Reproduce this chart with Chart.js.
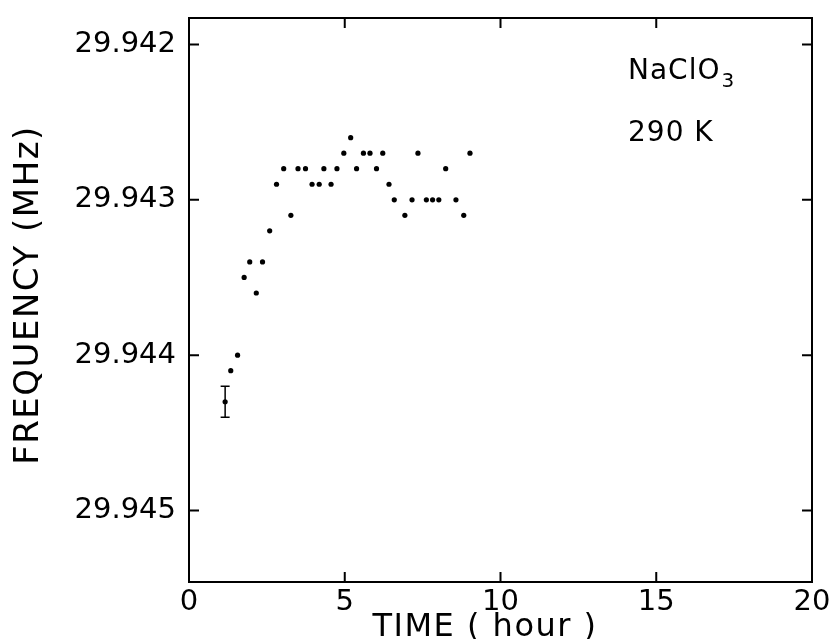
<!DOCTYPE html>
<html>
<head>
<meta charset="utf-8">
<script src="https://cdn.jsdelivr.net/npm/chart.js@4/dist/chart.umd.min.js"></script>
<style>
html,body{margin:0;padding:0;background:#fff;}
#wrap{width:835px;height:639px;}
</style>
</head>
<body>
<div id="wrap"><canvas id="c" width="835" height="639"></canvas></div>
<script>
// ---- data ----
const timeHours = [1.16,1.34,1.56,1.77,1.95,2.16,2.36,2.59,2.81,3.04,3.27,3.50,3.74,3.95,4.18,4.33,4.56,4.75,4.97,5.19,5.38,5.60,5.81,6.02,6.22,6.42,6.59,6.93,7.16,7.35,7.62,7.82,8.02,8.24,8.57,8.82,9.02];
const frequencyMHz = [29.9443,29.9441,29.9440,29.9435,29.9434,29.9436,29.9434,29.9432,29.9429,29.9428,29.9431,29.9428,29.9428,29.9429,29.9429,29.9428,29.9429,29.9428,29.9427,29.9426,29.9428,29.9427,29.9427,29.9428,29.9427,29.9429,29.9430,29.9431,29.9430,29.9427,29.9430,29.9430,29.9430,29.9428,29.9430,29.9431,29.9427];
const errBarX = [1.16];
const errBarY = [29.9443];
const errBarSize = [0.0001];
const xTickValues = [0,5,10,15,20];
const yTickValues = [29.942,29.943,29.944,29.945];
const xTitle = "TIME ( hour )";
const yTitle = "FREQUENCY (MHz)";
const sampleLabel = "NaClO";
const sampleSub = "3";
const tempLabel = "290 K";

const FONT = "'DejaVu Sans', sans-serif";
const INK = "#000";

const framePlugin = {
  id: 'frame',
  afterDatasetsDraw(chart) {
    const {ctx, chartArea: a, scales: {x, y}} = chart;
    ctx.save();
    ctx.strokeStyle = INK;
    ctx.lineWidth = 2;
    ctx.strokeRect(a.left, a.top, a.right - a.left, a.bottom - a.top);
    const tl = 10;
    ctx.beginPath();
    xTickValues.forEach(v => {
      if (v <= x.min || v >= x.max) return;
      const px = x.getPixelForValue(v);
      ctx.moveTo(px, a.bottom); ctx.lineTo(px, a.bottom - tl);
      ctx.moveTo(px, a.top); ctx.lineTo(px, a.top + tl);
    });
    yTickValues.forEach(v => {
      const py = y.getPixelForValue(v);
      ctx.moveTo(a.left, py); ctx.lineTo(a.left + tl, py);
      ctx.moveTo(a.right, py); ctx.lineTo(a.right - tl, py);
    });
    ctx.stroke();
    // error bar
    ctx.lineWidth = 1.5;
    ctx.beginPath();
    errBarX.forEach((xv, i) => {
      const px = x.getPixelForValue(xv);
      const p1 = y.getPixelForValue(errBarY[i] - errBarSize[i]);
      const p2 = y.getPixelForValue(errBarY[i] + errBarSize[i]);
      ctx.moveTo(px, p1); ctx.lineTo(px, p2);
      ctx.moveTo(px - 4.5, p1); ctx.lineTo(px + 4.5, p1);
      ctx.moveTo(px - 4.5, p2); ctx.lineTo(px + 4.5, p2);
    });
    ctx.stroke();
    ctx.restore();
  },
  afterDraw(chart) {
    const {ctx} = chart;
    ctx.save();
    ctx.fillStyle = INK;
    // x title
    ctx.font = "32px " + FONT;
    ctx.letterSpacing = "1.5px";
    ctx.textAlign = "center";
    ctx.textBaseline = "alphabetic";
    ctx.fillText(xTitle, 485, 636);
    // y title
    ctx.save();
    ctx.translate(38, 295);
    ctx.rotate(-Math.PI / 2);
    ctx.font = "34px " + FONT;
    ctx.letterSpacing = "1.5px";
    ctx.fillText(yTitle, 0, 0);
    ctx.restore();
    // annotations
    ctx.letterSpacing = "1px";
    ctx.textAlign = "left";
    ctx.font = "28px " + FONT;
    ctx.fillText(sampleLabel, 628, 79);
    const w = ctx.measureText(sampleLabel).width;
    ctx.font = "20px " + FONT;
    ctx.fillText(sampleSub, 628 + w + 1, 87);
    ctx.font = "28px " + FONT;
    ctx.letterSpacing = "1px";
    ctx.fillText(tempLabel, 628, 141);
    ctx.restore();
  }
};

new Chart(document.getElementById('c'), {
  type: 'scatter',
  data: {
    datasets: [{
      data: timeHours.map((t, i) => ({x: t, y: frequencyMHz[i]})),
      backgroundColor: INK,
      borderColor: INK,
      pointRadius: 2.6,
      pointBorderWidth: 0
    }]
  },
  options: {
    responsive: false,
    animation: false,
    devicePixelRatio: 1,
    layout: {padding: {top: 18, right: 23, left: 0, bottom: 0}},
    plugins: {legend: {display: false}, tooltip: {enabled: false}},
    scales: {
      x: {
        type: 'linear', min: 0, max: 20,
        grid: {display: false, drawTicks: false},
        border: {display: false},
        afterBuildTicks: s => { s.ticks = xTickValues.map(v => ({value: v})); },
        afterFit: s => { s.height = 639 - 582; s.paddingLeft = 0; s.paddingRight = 0; },
        ticks: {color: INK, font: {family: FONT, size: 29}, padding: 3, maxRotation: 0, autoSkip: false,
          callback: v => String(v)}
      },
      y: {
        type: 'linear', reverse: true, min: 29.94183, max: 29.94546,
        grid: {display: false, drawTicks: false},
        border: {display: false},
        afterBuildTicks: s => { s.ticks = yTickValues.map(v => ({value: v})); },
        afterFit: s => { s.width = 189; s.paddingTop = 0; s.paddingBottom = 0; },
        ticks: {color: INK, font: {family: FONT, size: 29}, padding: 13, autoSkip: false,
          callback: v => Number(v).toFixed(3)}
      }
    }
  },
  plugins: [framePlugin]
});
</script>
</body>
</html>
